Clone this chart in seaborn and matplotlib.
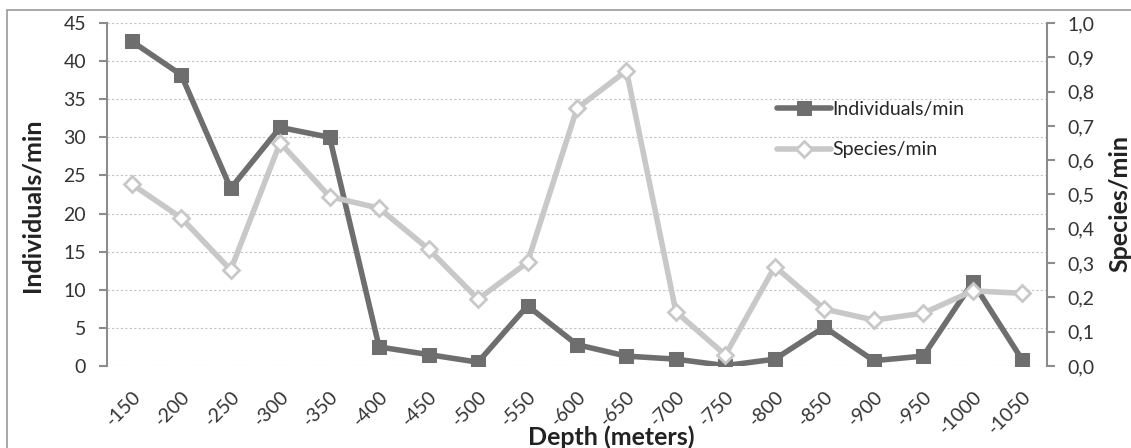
import pandas as pd
import seaborn as sns
import matplotlib.pyplot as plt
from matplotlib.patches import Rectangle

depths = ["-150", "-200", "-250", "-300", "-350", "-400", "-450", "-500", "-550", "-600",
          "-650", "-700", "-750", "-800", "-850", "-900", "-950", "-1000", "-1050"]
individuals = [42.6, 38.2, 23.3, 31.3, 30.0, 2.5, 1.5, 0.5, 7.9, 2.8,
               1.3, 0.9, 0.05, 0.9, 5.1, 0.7, 1.3, 11.0, 0.8]
species = [0.53, 0.432, 0.28, 0.651, 0.494, 0.46, 0.341, 0.195, 0.302, 0.751,
           0.861, 0.158, 0.032, 0.29, 0.166, 0.134, 0.154, 0.219, 0.212]

df = pd.DataFrame({"depth": depths, "ind": individuals, "sp": species})

sns.set_style("white")
plt.rcParams["font.family"] = ["Lato", "DejaVu Sans"]

dark = "#6e6e6e"
light = "#c8c8c8"
axis_col = "#8c8c8c"

fig = plt.figure(figsize=(11.31, 4.48), dpi=100)
ax = fig.add_axes([0.0946, 0.183, 0.8311, 0.7657])
ax2 = ax.twinx()

sns.lineplot(data=df, x="depth", y="ind", ax=ax, sort=False, color=dark, lw=4,
             marker="s", markersize=10, markerfacecolor=dark, markeredgecolor=dark,
             label="Individuals/min", legend=False, zorder=3)
sns.lineplot(data=df, x="depth", y="sp", ax=ax2, sort=False, color=light, lw=4,
             marker="D", markersize=8, markerfacecolor="white", markeredgecolor=light,
             markeredgewidth=2, label="Species/min", legend=False, zorder=3)

ax.set_xlim(-0.5, len(depths) - 0.5)
ax.set_ylim(0, 45)
ax.set_yticks(range(0, 46, 5))
ax2.set_ylim(0, 1.0)
ax2.set_yticks([i / 10 for i in range(11)])
ax2.set_yticklabels([f"{i/10:.1f}".replace(".", ",") for i in range(11)])

ax.yaxis.grid(True, color="#c4c4c4", linestyle=(0, (2, 2)), lw=0.8)
ax.set_axisbelow(True)

for a in (ax, ax2):
    for s in a.spines.values():
        s.set_visible(False)
ax.spines["left"].set_visible(True)
ax.spines["left"].set_color(axis_col)
ax.spines["left"].set_linewidth(1.5)
ax2.spines["right"].set_visible(True)
ax2.spines["right"].set_color(axis_col)
ax2.spines["right"].set_linewidth(1.5)

ax.tick_params(axis="y", left=True, length=6, width=1.5, color=axis_col,
               labelsize=14, labelcolor="#333333", pad=9)
ax2.tick_params(axis="y", right=True, length=6, width=1.5, color=axis_col,
                labelsize=14, labelcolor="#333333", pad=9)
ax.tick_params(axis="x", bottom=False, labelsize=14, labelcolor="#333333", pad=12)
ax2.tick_params(axis="x", bottom=False)
for lab in ax.get_xticklabels():
    lab.set_rotation(45)
    lab.set_ha("right")
    lab.set_rotation_mode("anchor")

lab_kw = dict(fontsize=18, fontweight="bold", color="#222222")
ax.set_xlabel("Depth (meters)", va="center", ha="center", **lab_kw)
ax.xaxis.set_label_coords(0.536, -0.207)
ax.set_ylabel("Individuals/min", va="center", ha="center", **lab_kw)
ax.yaxis.set_label_coords(-0.0798, 0.469)
ax2.set_ylabel("Species/min", rotation=90, va="center", ha="center", **lab_kw)
ax2.yaxis.set_label_coords(1.0777, 0.475)

h1, l1 = ax.get_legend_handles_labels()
h2, l2 = ax2.get_legend_handles_labels()
ax2.legend(h1 + h2, l1 + l2, loc="upper left", bbox_to_anchor=(0.705, 0.795),
           frameon=False, fontsize=14, labelspacing=1.2, handlelength=2.75,
           handletextpad=0.05, borderaxespad=0)

# chart frame (only left and top edges fall inside the image)
fig.patches.append(Rectangle((7 / 1131, -0.05), 1.1, 1 - 10 / 448 + 0.05,
                             transform=fig.transFigure, fill=False,
                             edgecolor="#999999", lw=1.2))

fig.savefig("out.png", dpi=100)
